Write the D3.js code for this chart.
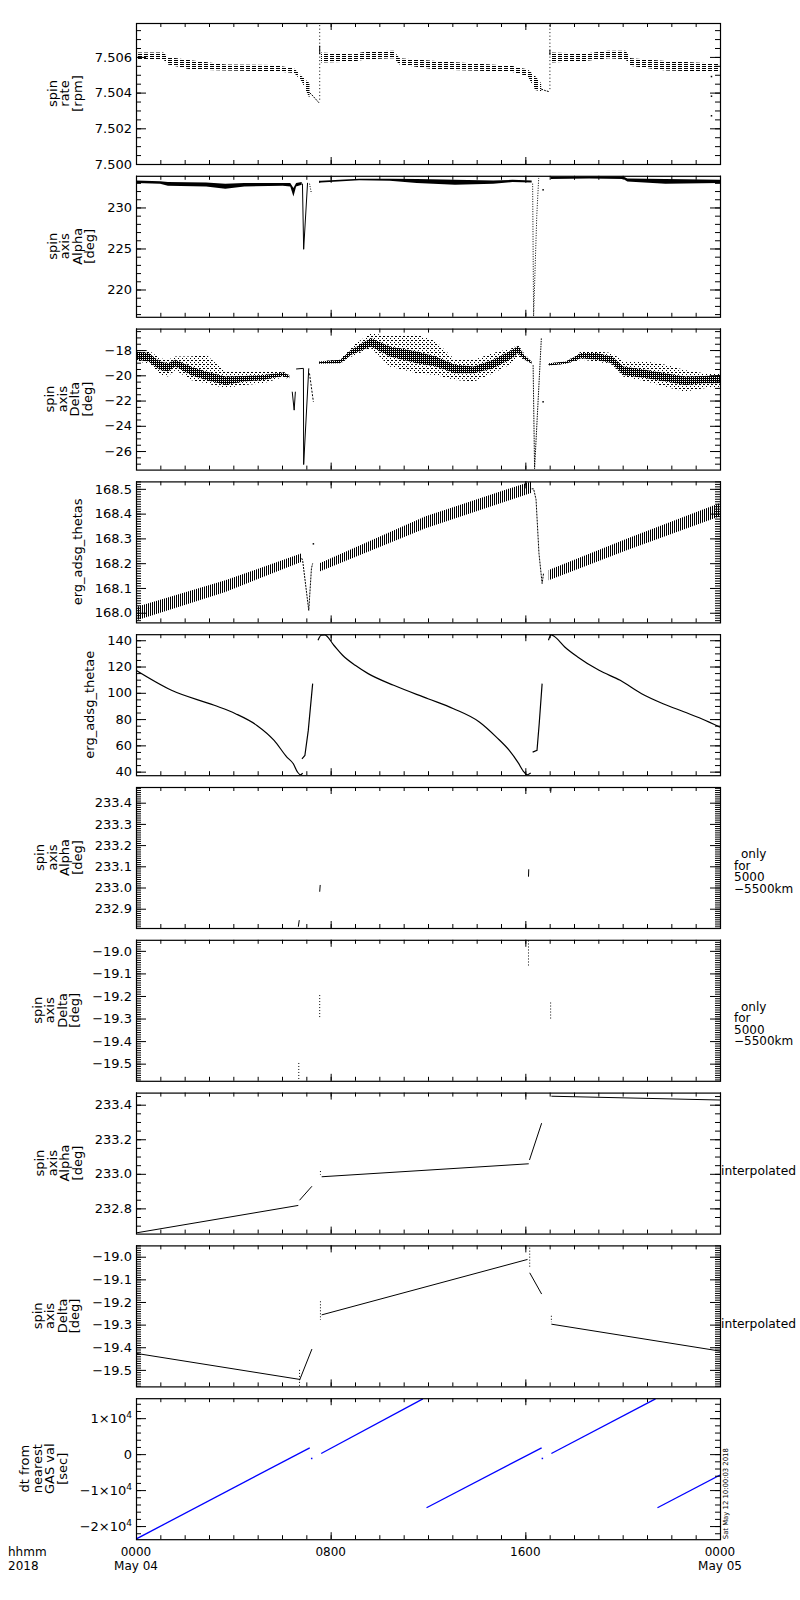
<!DOCTYPE html>
<html lang="en">
<head>
<meta charset="utf-8">
<title>ERG spin axis - 2018 May 04</title>
<script src="https://d3js.org/d3.v7.min.js"></script>
<style>
  body { margin: 0; background: #fff; }
  svg text { font-family: "DejaVu Sans", sans-serif; fill: #000; }
</style>
</head>
<body>
<div id="chart"></div>
<script>
// ---------------- time axis (hours after 0000 May 04) ----------------
var majorHours = [0, 8, 16, 24];
var hourLabels = ["0000", "0800", "1600", "0000"];
var dayLabels = ["May 04", "", "", "May 05"];

// ---------------- panel 1: spin rate [rpm] ----------------
var rateTicks = [7.500, 7.502, 7.504, 7.506];
var rateBandT1 = [0, 1.12, 1.31, 2.25, 3.67, 5.71, 6.50, 6.81, 7.13];
var rateBandHi1 = [7.50625, 7.50625, 7.50600, 7.50581, 7.50558, 7.50554, 7.50535, 7.50491, 7.50453];
var rateBandLo1 = [7.50587, 7.50587, 7.50558, 7.50530, 7.50524, 7.50520, 7.50510, 7.50463, 7.50368];
var rateBandT2 = [7.60, 8.86, 9.49, 10.59, 10.83, 12.32, 15.47, 16.10, 16.41, 16.65];
var rateBandHi2 = [7.50625, 7.50615, 7.50630, 7.50634, 7.50592, 7.50577, 7.50549, 7.50530, 7.50491, 7.50453];
var rateBandLo2 = [7.50568, 7.50573, 7.50587, 7.50592, 7.50558, 7.50530, 7.50516, 7.50491, 7.50415, 7.50406];
var rateBandT3 = [17.04, 18.46, 19.40, 20.11, 20.35, 21.76, 24.0];
var rateBandHi3 = [7.50625, 7.50619, 7.50634, 7.50634, 7.50592, 7.50577, 7.50562];
var rateBandLo3 = [7.50568, 7.50577, 7.50592, 7.50587, 7.50549, 7.50524, 7.50516];
var rateTailT1 = [7.13, 7.21, 7.52];
var rateTailV1 = [7.50400, 7.50390, 7.50343];
var rateTailT2 = [16.65, 16.80, 16.96];
var rateTailV2 = [7.50420, 7.50412, 7.50406];
var rateSpikeT = [7.55, 17.01];
var rateSpikeTop = [7.50778, 7.50778];
var rateSpikeBot = [7.50349, 7.50406];
var rateSpikeCoreTop = [7.50663, 7.50640];
var rateSpikeCoreBot = [7.50615, 7.50610];
var rateOutT = [23.65, 23.65, 23.65];
var rateOutV = [7.5049, 7.5038, 7.5027];

// ---------------- panel 2: spin axis Alpha [deg] ----------------
var alphaTicks = [220, 225, 230];
var alphaBandT1 = [0, 0.99, 1.31, 2.88, 3.67, 4.45, 6.03, 6.34, 6.47, 6.58, 6.81];
var alphaBandHi1 = [233.29, 233.21, 233.09, 233.05, 232.89, 232.97, 232.97, 232.97, 232.36, 232.97, 233.09];
var alphaBandLo1 = [232.97, 232.89, 232.64, 232.56, 232.28, 232.56, 232.64, 232.56, 231.34, 232.56, 232.76];
var alphaDipT1 = [6.84, 6.89, 7.05];
var alphaDipV1 = [232.9, 224.9, 233.0];
var alphaTailT1 = [7.13, 7.21];
var alphaTailV1 = [232.9, 231.7];
var alphaBandT2 = [7.52, 7.60, 9.17, 10.43, 11.54, 13.11, 14.68, 15.47, 16.26];
var alphaBandHi2 = [233.25, 233.25, 233.50, 233.50, 233.46, 233.37, 233.29, 233.37, 233.29];
var alphaBandLo2 = [232.97, 233.05, 233.33, 233.25, 232.97, 232.76, 232.89, 233.09, 233.05];
var alphaDipT2 = [16.30, 16.34, 16.47, 16.55];
var alphaDipV2 = [232.9, 216.75, 229.0, 233.6];
var alphaDotT2 = [16.73];
var alphaDotV2 = [232.15];
var alphaBandT3 = [17.04, 18.62, 20.03, 20.19, 21.76, 24];
var alphaBandHi3 = [233.70, 233.78, 233.78, 233.54, 233.46, 233.37];
var alphaBandLo3 = [233.46, 233.54, 233.46, 233.17, 232.89, 232.97];

// ---------------- panel 3: spin axis Delta [deg] ----------------
var deltaTicks = [-26, -24, -22, -20, -18];
var deltaT1 = [0, 0.52, 0.99, 1.31, 1.62, 2.25, 2.88, 3.67, 4.45, 5.24, 6.03, 6.30];
var deltaCoreHi1 = [-18.11, -18.24, -18.90, -19.04, -18.77, -19.30, -19.70, -20.10, -20.05, -19.97, -19.78, -19.97];
var deltaCoreLo1 = [-18.77, -18.90, -19.57, -19.70, -19.30, -19.97, -20.37, -20.77, -20.50, -20.37, -20.05, -20.23];
var deltaOutHi1 = [-17.97, -18.03, -18.64, -18.77, -18.51, -18.51, -18.37, -19.70, -19.70, -19.70, -19.70, -19.92];
var deltaOutLo1 = [-18.90, -19.04, -19.97, -20.10, -19.57, -20.37, -20.63, -21.03, -20.77, -20.63, -20.15, -20.30];
var deltaT3 = [7.52, 8.39, 8.86, 9.65, 10.43, 11.54, 12.32, 13.11, 13.89, 14.68, 15.47, 15.70, 15.94, 16.26];
var deltaCoreHi3 = [-18.90, -18.77, -17.97, -17.04, -17.71, -18.11, -18.51, -19.17, -19.30, -18.77, -17.97, -17.65, -18.37, -18.90];
var deltaCoreLo3 = [-19.09, -19.04, -18.37, -17.71, -18.51, -19.04, -19.30, -19.84, -19.84, -19.44, -18.64, -18.24, -18.72, -19.09];
var deltaOutHi3 = [-18.90, -18.72, -17.71, -16.64, -16.91, -16.78, -17.31, -18.77, -18.77, -18.24, -17.84, -17.57, -18.24, -18.90];
var deltaOutLo3 = [-19.09, -19.09, -18.51, -17.84, -19.30, -19.84, -19.97, -20.37, -20.50, -19.84, -19.04, -18.51, -18.77, -19.09];
var deltaT4 = [16.96, 17.67, 18.30, 18.93, 19.56, 20.03, 20.98, 21.76, 22.55, 23.34, 24];
var deltaCoreHi4 = [-19.04, -18.90, -18.24, -18.24, -18.51, -19.30, -19.57, -19.84, -20.10, -20.05, -19.97];
var deltaCoreLo4 = [-19.22, -19.09, -18.64, -18.77, -19.04, -19.97, -20.23, -20.50, -20.77, -20.63, -20.63];
var deltaOutHi4 = [-19.04, -18.90, -18.11, -18.11, -18.24, -18.90, -18.90, -19.17, -19.57, -19.84, -19.84];
var deltaOutLo4 = [-19.22, -19.09, -18.77, -18.90, -19.17, -20.10, -20.50, -20.90, -21.30, -21.03, -20.90];
var deltaDipT1 = [6.42, 6.50, 6.55];
var deltaDipV1 = [-21.30, -22.76, -21.30];
var deltaFlatT = [6.58, 6.88];
var deltaFlatV = [-19.50, -19.45];
var deltaDipT2 = [6.88, 6.89, 7.10];
var deltaDipV2 = [-19.45, -27.07, -19.45];
var deltaTailT = [7.13, 7.29];
var deltaTailV = [-19.85, -22.1];
var deltaDipT3 = [16.32, 16.38, 16.66];
var deltaDipV3 = [-19.2, -27.4, -17.0];
var deltaDotT = [16.73];
var deltaDotV = [-22.1];

// ---------------- panel 4: erg_adsg_thetas ----------------
var thetasTicks = [168.0, 168.1, 168.2, 168.3, 168.4, 168.5];
var thetasBandT1 = [0, 3.67, 6.81];
var thetasBandHi1 = [168.023, 168.131, 168.240];
var thetasBandLo1 = [167.969, 168.084, 168.206];
var thetasDipT1 = [6.81, 6.85, 7.10, 7.21, 7.26];
var thetasDipV1 = [168.22, 168.21, 168.009, 168.179, 168.199];
var thetasDotT = [7.29];
var thetasDotV = [168.278];
var thetasBandT2 = [7.52, 11.9, 16.26];
var thetasBandHi2 = [168.199, 168.389, 168.531];
var thetasBandLo2 = [168.165, 168.341, 168.484];
var thetasDipT2 = [16.26, 16.34, 16.44, 16.56, 16.69, 16.75];
var thetasDipV2 = [168.50, 168.50, 168.457, 168.24, 168.118, 168.16];
var thetasBandT3 = [16.96, 20.19, 24];
var thetasBandHi3 = [168.172, 168.300, 168.443];
var thetasBandLo3 = [168.131, 168.253, 168.389];

// ---------------- panel 5: erg_adsg_thetae ----------------
var thetaeTicks = [40, 60, 80, 100, 120, 140];
var thetaeT1 = [0, 1.458, 3.215, 4.09, 4.97, 5.675, 6.2, 6.465, 6.64, 6.76, 6.85];
var thetaeV1 = [117.1, 101.9, 90.5, 84.1, 75.2, 63.8, 51.1, 46.0, 39.6, 37.6, 38.9];
var thetaeT2 = [6.82, 6.94, 7.08, 7.26];
var thetaeV2 = [49.8, 52.3, 71.4, 107.0];
var thetaeT3 = [7.48, 7.61, 7.75, 8.13, 8.49, 9.01, 9.54, 10.59, 12.0, 13.05, 14.11, 14.81, 15.34, 15.69, 15.95, 16.08, 16.22];
var thetaeV3 = [140, 143.8, 144.1, 136.2, 128.6, 120.9, 114.6, 105.7, 95.5, 87.9, 77.8, 66.3, 56.2, 47.3, 39.6, 37.6, 38.9];
var thetaeT4 = [16.30, 16.48, 16.57, 16.69];
var thetaeV4 = [54.9, 56.2, 76.5, 107.0];
var thetaeT5 = [16.95, 17.06, 17.18, 17.62, 18.15, 19.03, 19.9, 20.78, 21.66, 22.54, 23.24, 24];
var thetaeV5 = [140, 144.1, 143.0, 134.9, 127.3, 117.1, 109.5, 99.3, 91.7, 85.4, 80.3, 73.9];

// ---------------- panel 6: Alpha only for 5000-5500km ----------------
var alphaOnlyTicks = [232.9, 233.0, 233.1, 233.2, 233.3, 233.4];
var alphaOnlyT0 = [6.67, 7.55, 16.13, 17.04];
var alphaOnlyT1 = [6.71, 7.57, 16.14, 17.06];
var alphaOnlyV0 = [232.815, 232.980, 233.051, 233.447];
var alphaOnlyV1 = [232.846, 233.012, 233.086, 233.472];

// ---------------- panel 7: Delta only for 5000-5500km ----------------
var deltaOnlyTicks = [-19.5, -19.4, -19.3, -19.2, -19.1, -19.0];
var deltaOnlyT = [6.69, 7.55, 16.13, 17.04];
var deltaOnlyTop = [-19.497, -19.196, -18.954, -19.229];
var deltaOnlyBot = [-19.574, -19.296, -19.073, -19.304];

// ---------------- panel 8: Alpha interpolated ----------------
var alphaIntTicks = [232.8, 233.0, 233.2, 233.4];
var alphaIntT = [[0, 6.67], [6.72, 7.23], [7.63, 16.14], [16.17, 16.67], [17.07, 24]];
var alphaIntV = [[232.658, 232.817], [232.847, 232.928], [232.983, 233.058], [233.080, 233.293], [233.449, 233.427]];
var alphaIntMarkT = [7.58];
var alphaIntMarkTop = [233.016];
var alphaIntMarkBot = [232.995];

// ---------------- panel 9: Delta interpolated ----------------
var deltaIntTicks = [-19.5, -19.4, -19.3, -19.2, -19.1, -19.0];
var deltaIntT = [[0, 6.72], [6.72, 7.23], [7.63, 16.09], [16.18, 16.67], [17.07, 24]];
var deltaIntV = [[-19.427, -19.542], [-19.546, -19.408], [-19.257, -19.012], [-19.071, -19.165], [-19.298, -19.417]];
var deltaIntMarkT = [6.72, 7.58, 16.18, 17.07];
var deltaIntMarkTop = [-19.500, -19.197, -18.960, -19.261];
var deltaIntMarkBot = [-19.570, -19.279, -19.049, -19.289];

// ---------------- panel 10: dt from nearest GAS val [sec] ----------------
var dtTicks = [-20000, -10000, 0, 10000];
var dtTickBase = ["\u22122\u00d710", "\u22121\u00d710", "0", "1\u00d710"];
var dtTickExp = ["4", "4", "", "4"];
var dtT = [[0, 7.14], [7.61, 11.79], [11.94, 16.67], [17.07, 21.35], [21.43, 24]];
var dtV = [[-23611, 1759], [185, 15370], [-14907, 1759], [185, 15370], [-14907, -5833]];
var dtDotT = [7.22, 16.70];
var dtDotV = [-1204, -1204];

// ---------------- layout ----------------
var W = 800, H = 1600;
var plotLeft = 136, plotRight = 720;
var panelTop0 = 23, panelPitch = 152.8, panelH = 141;

var svg = d3.select("#chart").append("svg")
    .attr("width", W)
    .attr("height", H);

var defs = svg.append("defs");

// textures standing in for the dense point clouds
function addPattern(id, w, h, cells) {
    var p = defs.append("pattern")
        .attr("id", id)
        .attr("patternUnits", "userSpaceOnUse")
        .attr("width", w)
        .attr("height", h);
    cells.forEach(function(c) {
        p.append("rect").attr("x", c[0]).attr("y", c[1]).attr("width", c[2]).attr("height", c[3]).attr("fill", "#000");
    });
}
addPattern("hdash", 6, 2, [[0, 0, 4, 1]]);
addPattern("vline", 2, 2, [[0, 0, 1, 2]]);
addPattern("dense", 2, 2, [[0, 0, 1, 1], [1, 1, 1, 1], [1, 0, 1, 1]]);
addPattern("sparse", 4, 4, [[0, 0, 1, 1], [2, 2, 1, 1], [3, 0, 1, 1]]);

var x = d3.scaleLinear().domain([0, 24]).range([plotLeft, plotRight]);

// ---------------- helpers ----------------
function idx(n) { return d3.range(n); }

function drawLine(plot, y, T, V, opts) {
    opts = opts || {};
    var line = d3.line()
        .curve(opts.smooth ? d3.curveMonotoneX : d3.curveLinear)
        .x(function(i) { return x(T[i]); })
        .y(function(i) { return y(V[i]); });
    plot.append("path")
        .attr("d", line(idx(T.length)))
        .attr("fill", "none")
        .attr("stroke", opts.color || "#000")
        .attr("stroke-width", opts.width || 1)
        .attr("stroke-dasharray", opts.dash || null);
}

function drawBand(plot, y, T, Lo, Hi, fill) {
    var area = d3.area()
        .x(function(i) { return x(T[i]); })
        .y0(function(i) { return y(Lo[i]); })
        .y1(function(i) { return y(Hi[i]); });
    plot.append("path")
        .attr("d", area(idx(T.length)))
        .attr("fill", fill)
        .attr("stroke", "none");
}

function drawDots(plot, y, T, V, color) {
    plot.append("g").selectAll("rect")
        .data(idx(T.length))
        .enter().append("rect")
        .attr("x", function(i) { return x(T[i]) - 0.75; })
        .attr("y", function(i) { return y(V[i]) - 0.75; })
        .attr("width", 1.5)
        .attr("height", 1.5)
        .attr("fill", color || "#000");
}

function drawMarks(plot, y, T0, T1, V0, V1, dash) {
    plot.append("g").selectAll("line")
        .data(idx(T0.length))
        .enter().append("line")
        .attr("x1", function(i) { return x(T0[i]); })
        .attr("x2", function(i) { return x(T1[i]); })
        .attr("y1", function(i) { return y(V0[i]); })
        .attr("y2", function(i) { return y(V1[i]); })
        .attr("stroke", "#000")
        .attr("stroke-width", 1)
        .attr("stroke-dasharray", dash || null);
}

function minorTicks(domain, step) {
    var lo = Math.min(domain[0], domain[1]), hi = Math.max(domain[0], domain[1]);
    var k0 = Math.ceil(lo / step - 1e-6), k1 = Math.floor(hi / step + 1e-6);
    return d3.range(k0, k1 + 1).map(function(k) { return +(k * step).toFixed(6); });
}

// ---------------- panel drawing ----------------
function drawRate(plot, y) {
    drawBand(plot, y, rateBandT1, rateBandLo1, rateBandHi1, "url(#hdash)");
    drawBand(plot, y, rateBandT2, rateBandLo2, rateBandHi2, "url(#hdash)");
    drawBand(plot, y, rateBandT3, rateBandLo3, rateBandHi3, "url(#hdash)");
    drawLine(plot, y, rateTailT1, rateTailV1, { dash: "2,1" });
    drawLine(plot, y, rateTailT2, rateTailV2, { dash: "2,1" });
    drawMarks(plot, y, rateSpikeT, rateSpikeT, rateSpikeTop, rateSpikeBot, "1,2.5");
    drawMarks(plot, y, rateSpikeT, rateSpikeT, rateSpikeCoreTop, rateSpikeCoreBot);
    drawDots(plot, y, rateOutT, rateOutV);
}

function drawAlpha(plot, y) {
    drawBand(plot, y, alphaBandT1, alphaBandLo1, alphaBandHi1, "#000");
    drawBand(plot, y, alphaBandT2, alphaBandLo2, alphaBandHi2, "#000");
    drawBand(plot, y, alphaBandT3, alphaBandLo3, alphaBandHi3, "#000");
    drawLine(plot, y, alphaDipT1, alphaDipV1);
    drawLine(plot, y, alphaTailT1, alphaTailV1, { dash: "1,1.5" });
    drawLine(plot, y, alphaDipT2, alphaDipV2, { dash: "1,1.5" });
    drawDots(plot, y, alphaDotT2, alphaDotV2);
}

function drawDelta(plot, y) {
    drawBand(plot, y, deltaT1, deltaOutLo1, deltaOutHi1, "url(#sparse)");
    drawBand(plot, y, deltaT3, deltaOutLo3, deltaOutHi3, "url(#sparse)");
    drawBand(plot, y, deltaT4, deltaOutLo4, deltaOutHi4, "url(#sparse)");
    drawBand(plot, y, deltaT1, deltaCoreLo1, deltaCoreHi1, "url(#dense)");
    drawBand(plot, y, deltaT3, deltaCoreLo3, deltaCoreHi3, "url(#dense)");
    drawBand(plot, y, deltaT4, deltaCoreLo4, deltaCoreHi4, "url(#dense)");
    drawLine(plot, y, deltaDipT1, deltaDipV1);
    drawLine(plot, y, deltaFlatT, deltaFlatV);
    drawLine(plot, y, deltaDipT2, deltaDipV2);
    drawLine(plot, y, deltaTailT, deltaTailV, { dash: "2,1.5" });
    drawLine(plot, y, deltaDipT3, deltaDipV3, { dash: "1.5,1" });
    drawDots(plot, y, deltaDotT, deltaDotV);
}

function drawThetas(plot, y) {
    drawBand(plot, y, thetasBandT1, thetasBandLo1, thetasBandHi1, "url(#vline)");
    drawBand(plot, y, thetasBandT2, thetasBandLo2, thetasBandHi2, "url(#vline)");
    drawBand(plot, y, thetasBandT3, thetasBandLo3, thetasBandHi3, "url(#vline)");
    drawLine(plot, y, thetasDipT1, thetasDipV1, { dash: "2,1" });
    drawLine(plot, y, thetasDipT2, thetasDipV2, { dash: "2,1" });
    drawDots(plot, y, thetasDotT, thetasDotV);
}

function drawThetae(plot, y) {
    drawLine(plot, y, thetaeT1, thetaeV1, { width: 1.2, smooth: true });
    drawLine(plot, y, thetaeT2, thetaeV2, { width: 1.2 });
    drawLine(plot, y, thetaeT3, thetaeV3, { width: 1.2, smooth: true });
    drawLine(plot, y, thetaeT4, thetaeV4, { width: 1.2 });
    drawLine(plot, y, thetaeT5, thetaeV5, { width: 1.2, smooth: true });
}

function drawAlphaOnly(plot, y) {
    drawMarks(plot, y, alphaOnlyT0, alphaOnlyT1, alphaOnlyV0, alphaOnlyV1);
}

function drawDeltaOnly(plot, y) {
    drawMarks(plot, y, deltaOnlyT, deltaOnlyT, deltaOnlyTop, deltaOnlyBot, "1,2");
}

function drawAlphaInt(plot, y) {
    alphaIntT.forEach(function(T, k) { drawLine(plot, y, T, alphaIntV[k]); });
    drawMarks(plot, y, alphaIntMarkT, alphaIntMarkT, alphaIntMarkTop, alphaIntMarkBot, "1,2");
}

function drawDeltaInt(plot, y) {
    deltaIntT.forEach(function(T, k) { drawLine(plot, y, T, deltaIntV[k]); });
    drawMarks(plot, y, deltaIntMarkT, deltaIntMarkT, deltaIntMarkTop, deltaIntMarkBot, "1,2");
}

function drawDt(plot, y) {
    dtT.forEach(function(T, k) { drawLine(plot, y, T, dtV[k], { color: "#0000ff", width: 1.3 }); });
    drawDots(plot, y, dtDotT, dtDotV, "#0000ff");
}

var f1 = d3.format(".1f");
var panels = [
    { title: ["spin", "rate", "[rpm]"], domain: [7.500, 7.5079], ticks: rateTicks, minor: 0.0005, fmt: d3.format(".3f"), draw: drawRate },
    { title: ["spin", "axis", "Alpha", "[deg]"], domain: [216.67, 233.86], ticks: alphaTicks, minor: 1, fmt: d3.format("d"), draw: drawAlpha },
    { title: ["spin", "axis", "Delta", "[deg]"], domain: [-27.47, -16.30], ticks: deltaTicks, minor: 0.5, fmt: d3.format("d"), draw: drawDelta },
    { title: ["erg_adsg_thetas"], domain: [167.961, 168.530], ticks: thetasTicks, minor: 0.01, fmt: f1, draw: drawThetas },
    { title: ["erg_adsg_thetae"], domain: [37.3, 144.6], ticks: thetaeTicks, minor: 5, fmt: d3.format("d"), draw: drawThetae },
    { title: ["spin", "axis", "Alpha", "[deg]"], domain: [232.809, 233.474], ticks: alphaOnlyTicks, minor: 0.01, fmt: f1, draw: drawAlphaOnly,
      right: ["only", "for", "5000", "\u22125500km"], rightDx: [7, 0, 0, 0] },
    { title: ["spin", "axis", "Delta", "[deg]"], domain: [-19.576, -18.951], ticks: deltaOnlyTicks, minor: 0.01, fmt: f1, draw: drawDeltaOnly,
      right: ["only", "for", "5000", "\u22125500km"], rightDx: [7, 0, 0, 0] },
    { title: ["spin", "axis", "Alpha", "[deg]"], domain: [232.654, 233.47], ticks: alphaIntTicks, minor: 0.05, fmt: f1, draw: drawAlphaInt,
      interp: true },
    { title: ["spin", "axis", "Delta", "[deg]"], domain: [-19.573, -18.950], ticks: deltaIntTicks, minor: 0.01, fmt: f1, draw: drawDeltaInt,
      interp: true },
    { title: ["dt from", "nearest", "GAS val", "[sec]"], domain: [-23650, 15550], ticks: dtTicks, minor: 2000, fmt: null, draw: drawDt }
];

var minorHours = d3.range(0, 25);

panels.forEach(function(cfg, i) {
    var top = panelTop0 + i * panelPitch;
    var bottom = top + panelH;
    var y = d3.scaleLinear().domain(cfg.domain).range([bottom, top]);
    var g = svg.append("g").attr("class", "panel");

    defs.append("clipPath").attr("id", "clip" + i)
        .append("rect")
        .attr("x", plotLeft).attr("y", top)
        .attr("width", plotRight - plotLeft).attr("height", panelH);

    var plot = g.append("g").attr("clip-path", "url(#clip" + i + ")");
    cfg.draw(plot, y);

    // y axes, ticks drawn inward on both sides
    var minors = minorTicks(cfg.domain, cfg.minor);
    g.append("g").attr("transform", "translate(" + plotLeft + ",0)")
        .call(d3.axisLeft(y).tickValues(minors).tickSize(-5).tickFormat(""))
        .call(function(s) { s.select(".domain").remove(); });
    g.append("g").attr("transform", "translate(" + plotRight + ",0)")
        .call(d3.axisRight(y).tickValues(minors).tickSize(-5).tickFormat(""))
        .call(function(s) { s.select(".domain").remove(); });
    g.append("g").attr("transform", "translate(" + plotRight + ",0)")
        .call(d3.axisRight(y).tickValues(cfg.ticks).tickSize(-10).tickFormat(""))
        .call(function(s) { s.select(".domain").remove(); });

    var yAxis = g.append("g").attr("transform", "translate(" + plotLeft + ",0)")
        .call(d3.axisLeft(y).tickValues(cfg.ticks).tickSize(-10).tickPadding(4)
            .tickFormat(cfg.fmt ? cfg.fmt : function() { return ""; }))
        .call(function(s) { s.select(".domain").remove(); });
    yAxis.attr("font-size", 13).attr("font-family", "DejaVu Sans, sans-serif");

    if (!cfg.fmt) {
        // powers of ten labels for the dt panel
        yAxis.selectAll(".tick text").each(function(d, k) {
            var t = d3.select(this).text(null);
            t.append("tspan").text(dtTickBase[k]);
            if (dtTickExp[k]) {
                t.append("tspan").attr("dy", "-0.5em").attr("font-size", 9).text(dtTickExp[k]);
            }
        });
    }

    // x ticks top and bottom
    [["axisBottom", bottom], ["axisTop", top]].forEach(function(a) {
        g.append("g").attr("transform", "translate(0," + a[1] + ")")
            .call(d3[a[0]](x).tickValues(minorHours).tickSize(-4).tickFormat(""))
            .call(function(s) { s.select(".domain").remove(); });
        g.append("g").attr("transform", "translate(0," + a[1] + ")")
            .call(d3[a[0]](x).tickValues(majorHours).tickSize(-7).tickFormat(""))
            .call(function(s) { s.select(".domain").remove(); });
    });

    // frame
    g.append("rect")
        .attr("x", plotLeft + 0.5).attr("y", top + 0.5)
        .attr("width", plotRight - plotLeft).attr("height", panelH)
        .attr("fill", "none").attr("stroke", "#000").attr("stroke-width", 1.2);

    // y title, one column per line, left of the tick labels
    var bb = yAxis.node().getBBox();
    var lastX = plotLeft + bb.x - 13;
    var cy = (top + bottom) / 2;
    var n = cfg.title.length;
    cfg.title.forEach(function(line, k) {
        var lx = lastX - (n - 1 - k) * 12.5;
        g.append("text")
            .attr("x", lx).attr("y", cy)
            .attr("transform", "rotate(-90," + lx + "," + cy + ")")
            .attr("text-anchor", "middle")
            .attr("font-size", 13)
            .text(line);
    });

    if (cfg.right) {
        cfg.right.forEach(function(line, k) {
            g.append("text")
                .attr("x", plotRight + 14 + cfg.rightDx[k])
                .attr("y", top + 71 + k * 11.5)
                .attr("font-size", 12)
                .text(line);
        });
    }
    if (cfg.interp) {
        g.append("text")
            .attr("x", plotRight + 1)
            .attr("y", top + 82.5)
            .attr("font-size", 12)
            .attr("textLength", 75)
            .attr("lengthAdjust", "spacingAndGlyphs")
            .text("interpolated");
    }
});

// bottom time labels
var lastBottom = panelTop0 + (panels.length - 1) * panelPitch + panelH;
majorHours.forEach(function(h, k) {
    svg.append("text")
        .attr("x", x(h)).attr("y", lastBottom + 17)
        .attr("text-anchor", "middle").attr("font-size", 12)
        .text(hourLabels[k]);
    if (dayLabels[k]) {
        svg.append("text")
            .attr("x", x(h)).attr("y", lastBottom + 31)
            .attr("text-anchor", "middle").attr("font-size", 12)
            .text(dayLabels[k]);
    }
});
svg.append("text").attr("x", 8).attr("y", lastBottom + 17).attr("font-size", 12).text("hhmm");
svg.append("text").attr("x", 8).attr("y", lastBottom + 31).attr("font-size", 12).text("2018");

// creation stamp
svg.append("text")
    .attr("x", 728).attr("y", lastBottom)
    .attr("transform", "rotate(-90,728," + lastBottom + ")")
    .attr("font-family", "DejaVu Sans Mono, monospace")
    .attr("font-size", 7)
    .attr("textLength", 91)
    .attr("lengthAdjust", "spacingAndGlyphs")
    .text("Sat May 12 10:00:03 2018");
</script>
</body>
</html>
